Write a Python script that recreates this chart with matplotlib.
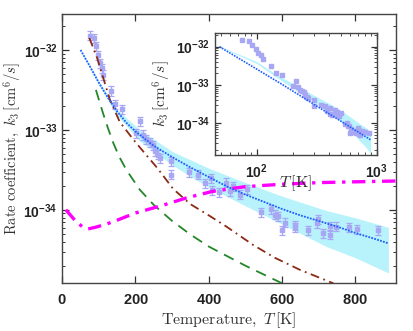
import numpy as np
import matplotlib
matplotlib.use('Agg')
import matplotlib.pyplot as plt
from matplotlib.ticker import FixedLocator, FuncFormatter, LogLocator, NullFormatter

plt.rcParams['mathtext.fontset'] = 'custom'
plt.rcParams['mathtext.bf'] = 'Liberation Sans:bold'
plt.rcParams['mathtext.rm'] = 'Liberation Sans:bold'
plt.rcParams['mathtext.it'] = 'Liberation Sans:bold:italic'

# measured points (T in K, log10 k3)
pts_T = [76, 86, 92, 99, 103, 108, 112, 132, 144, 162, 201, 212, 221, 230, 239,
         248, 253, 262, 267, 298, 298, 346, 371, 389, 407, 410, 427, 448, 457,
         466, 485, 505, 542, 571, 580, 589, 601, 607, 634, 636, 671, 695, 698,
         712, 730, 732, 748, 783, 805, 862]
pts_logk = [-31.82, -31.85, -31.95, -32.06, -32.16, -32.23, -32.31, -32.51, -32.68,
            -32.74, -33.04, -32.89, -33.06, -33.12, -33.15, -33.19, -33.27, -33.31,
            -33.35, -33.39, -33.56, -33.53, -33.56, -33.67, -33.60, -33.75, -33.78,
            -33.66, -33.77, -33.70, -33.81, -33.74, -34.03, -33.99, -34.06, -34.08,
            -34.25, -34.16, -34.19, -34.22, -34.25, -34.17, -34.12, -34.29, -34.20,
            -34.31, -34.21, -34.22, -34.24, -34.25]
err_frac = 0.13

# fit (main panel)
fit_T = [50, 75, 100, 125, 150, 175, 200, 250, 300, 350, 400, 450, 500, 550, 600,
         650, 700, 750, 800, 850, 890]
fit_logk = [-32.00, -32.20, -32.41, -32.60, -32.77, -32.91, -33.02, -33.20, -33.34,
            -33.47, -33.59, -33.71, -33.81, -33.90, -33.99, -34.07, -34.14, -34.21,
            -34.29, -34.36, -34.42]

# uncertainty band
band_T = [50, 100, 150, 212, 300, 400, 500, 600, 721, 800, 890]
band_hi = [-31.99, -32.39, -32.75, -33.00, -33.27, -33.48, -33.66, -33.83, -34.01, -34.10, -34.22]
band_lo = [-32.01, -32.44, -32.82, -33.14, -33.44, -33.72, -33.95, -34.18, -34.46, -34.60, -34.79]

# model curves
green_T = [92, 100, 112, 125, 140, 155, 175, 212, 250, 300, 350, 400, 450, 500, 550, 600]
green_logk = [-32.50, -32.62, -32.80, -32.98, -33.17, -33.33, -33.50, -33.75, -33.94,
              -34.14, -34.31, -34.46, -34.58, -34.70, -34.81, -34.92]

red_T = [74, 94, 112, 130, 157, 194, 212, 260, 303, 350, 400, 448, 521, 580, 648, 740]
red_logk = [-31.85, -32.08, -32.35, -32.62, -32.90, -33.12, -33.22, -33.48, -33.74,
            -33.93, -34.07, -34.21, -34.44, -34.60, -34.75, -34.92]

mag_T = [10, 25, 40, 55, 70, 90, 120, 150, 200, 270, 340, 410, 500, 600, 700, 800, 910]
mag_logk = [-34.00, -34.08, -34.16, -34.21, -34.24, -34.22, -34.18, -34.13, -34.04,
            -33.95, -33.85, -33.77, -33.71, -33.68, -33.66, -33.65, -33.64]

# fit line as drawn in the inset
ins_T = [49, 166, 897]
ins_logk = [-32.0, -33.0, -34.44]

pts_k = 10 ** np.array(pts_logk)
pcol = '#a7a7f4'
bandcol = '#b8f2fb'


def pow_fmt(v, pos):
    return r'$\mathbf{10^{%d}}$' % int(round(np.log10(v)))


fig = plt.figure(figsize=(4.13, 3.31), dpi=100)
ax = fig.add_axes([0.1506, 0.1441, 0.8075, 0.8136])
ax.set_yscale('log')
ax.fill_between(band_T, 10 ** np.array(band_lo), 10 ** np.array(band_hi),
                color=bandcol, lw=0, zorder=1)
ax.errorbar(pts_T, pts_k, yerr=err_frac * pts_k, fmt='s', ms=3, color=pcol,
            ecolor=pcol, elinewidth=0.9, capsize=2.2, capthick=0.9, zorder=2)
ax.plot(green_T, 10 ** np.array(green_logk), color='#24862a', lw=1.3,
        ls=(0, (6, 4)), zorder=3)
ax.plot(red_T, 10 ** np.array(red_logk), color='#8b2a14', lw=1.3,
        ls=(0, (5, 2.5, 1, 2.5)), zorder=3)
ax.plot(mag_T, 10 ** np.array(mag_logk), color='#ff00ff', lw=2.4,
        ls=(0, (4, 2, 1, 2)), zorder=3)
ax.plot(fit_T, 10 ** np.array(fit_logk), color='#1f5fff', lw=1.3,
        ls=(0, (1, 0.7)), zorder=4)

ax.set_xlim(0, 910)
ax.set_ylim(10 ** -34.92, 10 ** -31.55)
ax.xaxis.set_major_locator(FixedLocator([0, 200, 400, 600, 800]))
ax.yaxis.set_major_locator(FixedLocator([1e-34, 1e-33, 1e-32]))
ax.yaxis.set_minor_locator(LogLocator(base=10, subs=np.arange(2, 10)))
ax.yaxis.set_major_formatter(FuncFormatter(pow_fmt))
ax.yaxis.set_minor_formatter(NullFormatter())
ax.tick_params(which='both', direction='in', top=True, right=True, colors='#333333')
ax.tick_params(which='major', length=5, width=0.9, labelsize=10, labelcolor='#222222')
ax.tick_params(which='minor', length=2.5, width=0.7)
ax.tick_params(axis='x', pad=6, labelsize=10.5)
ax.set_xticklabels([r'$\mathbf{%d}$' % t for t in [0, 200, 400, 600, 800]])
for s in ax.spines.values():
    s.set_color('#444444')
    s.set_linewidth(1.0)
ax.set_xlabel(r'$\mathrm{Temperature,}\ T\,[\mathrm{K}]$', fontsize=11.5,
              math_fontfamily='cm', color='#333333', labelpad=3)
ax.set_ylabel(r'$\mathrm{Rate\ coefficient,}\ k_3\,[\mathrm{cm}^6/s]$', fontsize=10.5,
              math_fontfamily='cm', color='#333333')
ax.yaxis.set_label_coords(-0.118, 0.5)

# inset
ins = fig.add_axes([0.5206, 0.5317, 0.3915, 0.3677])
ins.set_xscale('log')
ins.set_yscale('log')
ins.fill_between(band_T, 10 ** np.array(band_lo), 10 ** np.array(band_hi),
                 color=bandcol, lw=0, zorder=1)
ins.plot(pts_T, pts_k, 's', ms=3.2, color=pcol, zorder=2)
ins.plot(ins_T, 10 ** np.array(ins_logk), color='#1f5fff', lw=1.2,
         ls=(0, (1, 0.7)), zorder=4)
ins.set_xlim(45, 1000)
ins.set_ylim(10 ** -34.83, 10 ** -31.65)
ins.xaxis.set_major_locator(FixedLocator([1e2, 1e3]))
ins.xaxis.set_minor_locator(LogLocator(base=10, subs=np.arange(2, 10)))
ins.yaxis.set_major_locator(FixedLocator([1e-34, 1e-33, 1e-32]))
ins.yaxis.set_minor_locator(LogLocator(base=10, subs=np.arange(2, 10)))
for a in (ins.xaxis, ins.yaxis):
    a.set_major_formatter(FuncFormatter(pow_fmt))
    a.set_minor_formatter(NullFormatter())
ins.tick_params(which='both', direction='in', top=True, right=True, colors='#333333')
ins.tick_params(which='major', length=4, width=0.9, labelsize=10, labelcolor='#222222')
ins.tick_params(which='minor', length=2.2, width=0.6)
ins.tick_params(axis='x', pad=5)
for s in ins.spines.values():
    s.set_color('#444444')
    s.set_linewidth(1.0)
ins.set_xlabel(r'$T\,[\mathrm{K}]$', fontsize=11.5, math_fontfamily='cm',
               color='#333333', labelpad=-5)
ins.set_ylabel(r'$k_3\,[\mathrm{cm}^6/s]$', fontsize=11, math_fontfamily='cm',
               color='#333333', labelpad=2)

fig.savefig('out.png', dpi=100)
